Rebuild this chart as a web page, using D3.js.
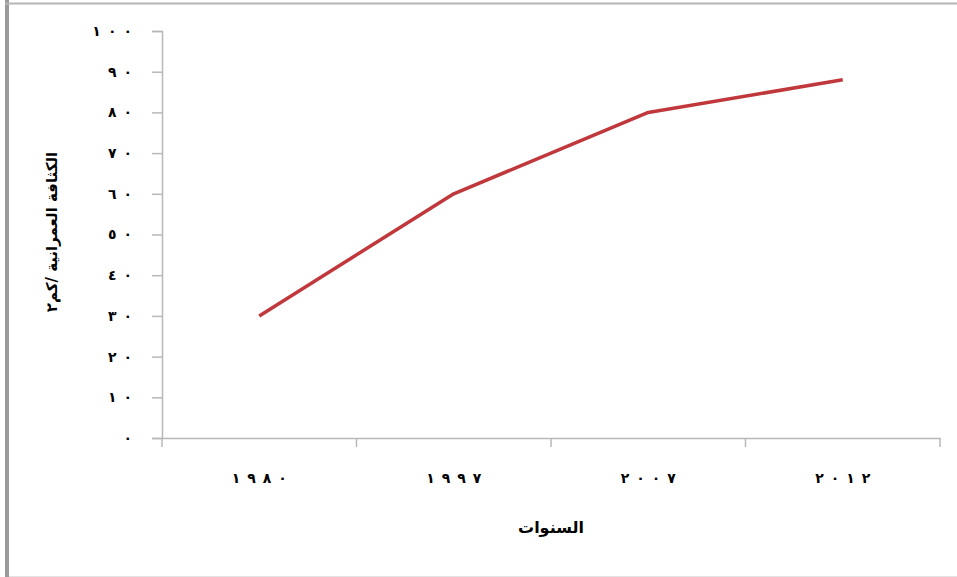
<!DOCTYPE html>
<html lang="ar">
<head>
<meta charset="utf-8">
<script src="https://cdn.jsdelivr.net/npm/d3@7"></script>
<style>
  html, body { margin: 0; padding: 0; background: #fff; }
  svg { display: block; }
  text { font-family: "DejaVu Sans", "Noto Sans", sans-serif; fill: #000; }
  .digits { direction: ltr; unicode-bidi: bidi-override; }
</style>
</head>
<body>
<svg id="chart" width="957" height="577"></svg>
<script>
// Urban density by year
const years = ["١٩٨٠", "١٩٩٧", "٢٠٠٧", "٢٠١٢"];
const density = [30, 60, 80, 88];
const yTicks = [0, 10, 20, 30, 40, 50, 60, 70, 80, 90, 100];
const yTickLabels = ["٠", "١٠", "٢٠", "٣٠", "٤٠", "٥٠", "٦٠", "٧٠", "٨٠", "٩٠", "١٠٠"];
const xTitle = "السنوات";
const yTitle = "الكثافة العمرانية /كم٢";

// spread digits apart
const spaced = s => s.split("").join("\u2002");

const svg = d3.select("#chart");
const W = 957, H = 577;
const m = { left: 162, right: 17, top: 31, bottom: 139 };

// frame edges
svg.append("rect").attr("x", 5).attr("y", 0).attr("width", 4).attr("height", H).attr("fill", "#9a9a9a");
svg.append("line").attr("x1", 5).attr("x2", W).attr("y1", 3.5).attr("y2", 3.5).attr("stroke", "#b5b5b5").attr("stroke-width", 2);
svg.append("line").attr("x1", 9).attr("x2", W).attr("y1", 576.5).attr("y2", 576.5).attr("stroke", "#e3e3e3").attr("stroke-width", 1);

const x = d3.scaleBand().domain(years).range([m.left, W - m.right]);
const y = d3.scaleLinear().domain([0, 100]).range([H - m.bottom, m.top]);

const axisColor = "#b8b8b8";

// y axis
const yAxis = svg.append("g").attr("transform", `translate(${m.left},0)`)
  .call(d3.axisLeft(y).tickValues(yTicks).tickSize(10).tickPadding(20)
    .tickFormat((d, i) => spaced(yTickLabels[i])));
yAxis.select(".domain").attr("stroke", axisColor).attr("stroke-width", 1.5);
yAxis.selectAll(".tick line").attr("stroke", axisColor).attr("stroke-width", 1.5);
yAxis.selectAll(".tick text").attr("font-size", 14).attr("font-weight", "bold")
  .attr("class", "digits");

// x axis
const xAxis = svg.append("g").attr("transform", `translate(0,${H - m.bottom})`)
  .call(d3.axisBottom(x).tickSize(0).tickPadding(35).tickFormat(spaced));
xAxis.select(".domain").attr("stroke", axisColor).attr("stroke-width", 1.5);
xAxis.selectAll(".tick text").attr("font-size", 14).attr("font-weight", "bold")
  .attr("class", "digits");
// category boundary ticks
const bounds = years.map(d => x(d)).concat([x(years[years.length - 1]) + x.bandwidth()]);
xAxis.selectAll(".bound").data(bounds).join("line").attr("class", "bound")
  .attr("x1", d => d).attr("x2", d => d).attr("y1", 0).attr("y2", 9)
  .attr("stroke", axisColor).attr("stroke-width", 1.5);

// line
const line = d3.line()
  .x((d, i) => x(years[i]) + x.bandwidth() / 2)
  .y(d => y(d));
svg.append("path").datum(density)
  .attr("d", line)
  .attr("fill", "none")
  .attr("stroke", "#c0383c")
  .attr("stroke-width", 3.5)
  .attr("stroke-linejoin", "round");

// axis titles
svg.append("text").attr("x", (m.left + W - m.right) / 2).attr("y", 533)
  .attr("text-anchor", "middle").attr("font-size", 16).attr("font-weight", "bold")
  .attr("direction", "rtl").text(xTitle);
svg.append("text").attr("transform", "translate(57,232) rotate(-90)")
  .attr("text-anchor", "middle").attr("font-size", 15).attr("font-weight", "bold")
  .attr("direction", "rtl").text(yTitle);
</script>
</body>
</html>
